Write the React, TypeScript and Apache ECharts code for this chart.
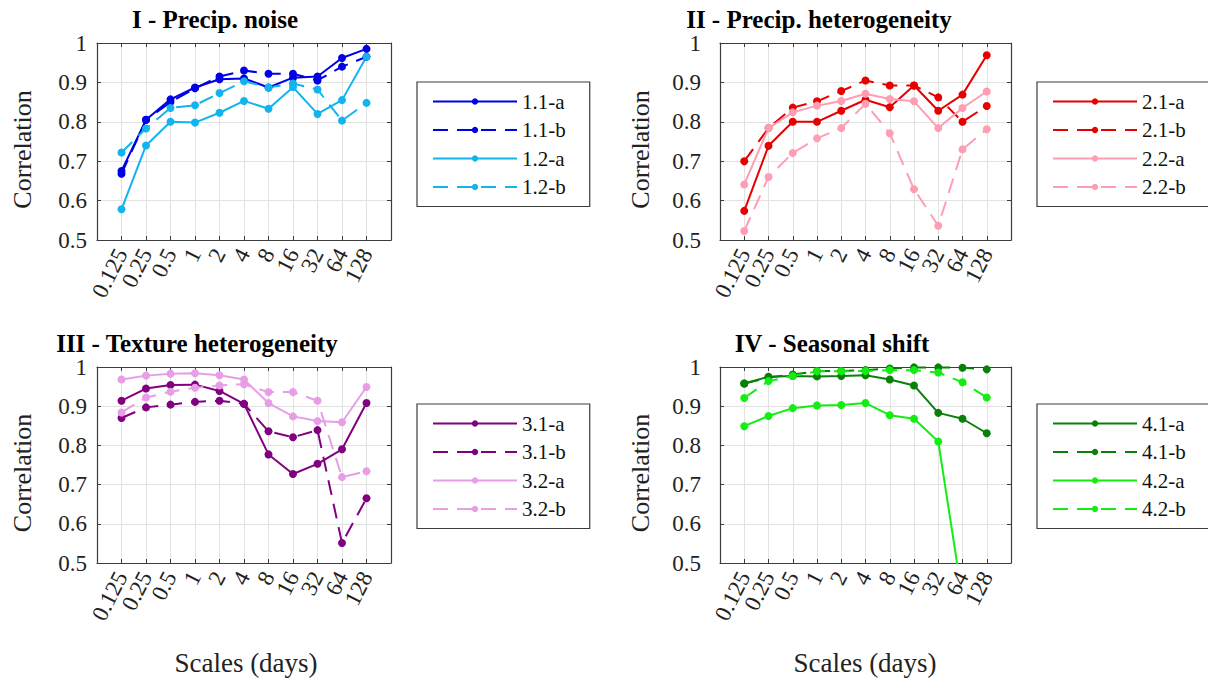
import React, { useEffect, useRef } from 'react';
import * as echarts from 'echarts';

const FONT = "'Liberation Serif', 'Times New Roman', serif";

const scales = ['0.125', '0.25', '0.5', '1', '2', '4', '8', '16', '32', '64', '128'];
const yTicks = [0.5, 0.6, 0.7, 0.8, 0.9, 1];

const titles = ['I - Precip. noise', 'II - Precip. heterogeneity', 'III - Texture heterogeneity', 'IV - Seasonal shift'];

const names1 = ['1.1-a', '1.1-b', '1.2-a', '1.2-b'];
const names2 = ['2.1-a', '2.1-b', '2.2-a', '2.2-b'];
const names3 = ['3.1-a', '3.1-b', '3.2-a', '3.2-b'];
const names4 = ['4.1-a', '4.1-b', '4.2-a', '4.2-b'];

const s11a = [0.675, 0.805, 0.857, 0.887, 0.908, 0.910, 0.887, 0.912, 0.915, 0.962, 0.985];
const s11b = [0.668, 0.805, 0.850, 0.885, 0.915, 0.930, 0.922, 0.922, 0.905, 0.940, 0.965];
const s12a = [0.578, 0.740, 0.800, 0.798, 0.823, 0.853, 0.833, 0.888, 0.820, 0.855, 0.965];
const s12b = [0.722, 0.783, 0.835, 0.842, 0.873, 0.903, 0.887, 0.897, 0.882, 0.803, 0.848];

const s21a = [0.574, 0.739, 0.800, 0.800, 0.828, 0.856, 0.837, 0.892, 0.828, 0.869, 0.969];
const s21b = [0.700, 0.784, 0.836, 0.852, 0.878, 0.905, 0.892, 0.892, 0.862, 0.800, 0.840];
const s22a = [0.641, 0.784, 0.824, 0.841, 0.853, 0.871, 0.858, 0.852, 0.784, 0.835, 0.877];
const s22b = [0.523, 0.660, 0.721, 0.758, 0.784, 0.846, 0.771, 0.629, 0.536, 0.730, 0.781];

const s31a = [0.914, 0.945, 0.954, 0.955, 0.939, 0.906, 0.777, 0.727, 0.753, 0.790, 0.908];
const s31b = [0.870, 0.897, 0.904, 0.911, 0.914, 0.906, 0.836, 0.821, 0.839, 0.551, 0.665];
const s32a = [0.968, 0.978, 0.983, 0.984, 0.979, 0.968, 0.908, 0.874, 0.862, 0.859, 0.949];
const s32b = [0.884, 0.922, 0.937, 0.947, 0.953, 0.956, 0.936, 0.936, 0.914, 0.719, 0.734];

const s41a = [0.958, 0.975, 0.977, 0.976, 0.977, 0.979, 0.968, 0.953, 0.883, 0.868, 0.831];
const s41b = [0.958, 0.973, 0.981, 0.989, 0.990, 0.992, 0.996, 0.999, 0.999, 0.998, 0.994];
const s42a = [0.849, 0.875, 0.895, 0.902, 0.903, 0.908, 0.877, 0.868, 0.810, 0.410, 0.400];
const s42b = [0.921, 0.964, 0.977, 0.989, 0.989, 0.990, 0.992, 0.992, 0.986, 0.961, 0.922];

const colors1 = ['#0000e6', '#0000e6', '#12b4ee', '#12b4ee'];
const colors2 = ['#e60000', '#e60000', '#ff9db2', '#ff9db2'];
const colors3 = ['#800080', '#800080', '#e89ee6', '#e89ee6'];
const colors4 = ['#0a800a', '#0a800a', '#12ee12', '#12ee12'];

const panels = [
  { names: names1, values: [s11a, s11b, s12a, s12b], colors: colors1 },
  { names: names2, values: [s21a, s21b, s22a, s22b], colors: colors2 },
  { names: names3, values: [s31a, s31b, s32a, s32b], colors: colors3 },
  { names: names4, values: [s41a, s41b, s42a, s42b], colors: colors4 },
];

const grids = [
  { left: 97, top: 43, width: 294, height: 197 },
  { left: 720, top: 43, width: 291, height: 197 },
  { left: 97, top: 367, width: 294, height: 196 },
  { left: 720, top: 367, width: 291, height: 196 },
];
const yLabelMargin = [10, 19, 10, 19];
const legendPos = [
  { left: 417, top: 82 },
  { left: 1037, top: 82 },
  { left: 417, top: 404 },
  { left: 1037, top: 404 },
];
const titlePos = [
  { x: 215, y: 19 },
  { x: 819, y: 19 },
  { x: 197, y: 343 },
  { x: 832, y: 343 },
];

const AXIS_COLOR = '#3c3c3c';
const GRID_COLOR = '#e2e2e2';
const DASH = [15, 9];

function buildOption() {
  const xAxis: any[] = [];
  const yAxis: any[] = [];
  const series: any[] = [];
  const legend: any[] = [];
  const graphic: any[] = [];

  panels.forEach((p, gi) => {
    const g = grids[gi];
    xAxis.push({
      type: 'value', gridIndex: gi, position: 'bottom', min: 0, max: 12, interval: 1,
      axisLine: { show: true, onZero: false, lineStyle: { color: AXIS_COLOR, width: 1.2 } },
      axisTick: { show: true, inside: true, length: 4, lineStyle: { color: AXIS_COLOR } },
      splitLine: { show: true, lineStyle: { color: GRID_COLOR, width: 1 } },
      axisLabel: {
        show: true, rotate: 63, margin: 10, fontFamily: FONT, fontSize: 23, color: '#222',
        formatter: (v: number) => (v >= 1 && v <= scales.length ? scales[v - 1] : ''),
      },
    });
    xAxis.push({
      type: 'value', gridIndex: gi, position: 'top', min: 0, max: 12, interval: 1,
      axisLine: { show: true, onZero: false, lineStyle: { color: AXIS_COLOR, width: 1.2 } },
      axisTick: { show: true, inside: true, length: 4, lineStyle: { color: AXIS_COLOR } },
      splitLine: { show: false }, axisLabel: { show: false },
    });
    yAxis.push({
      type: 'value', gridIndex: gi, position: 'left', min: 0.5, max: 1, interval: 0.1,
      axisLine: { show: true, onZero: false, lineStyle: { color: AXIS_COLOR, width: 1.2 } },
      axisTick: { show: true, inside: true, length: 4, lineStyle: { color: AXIS_COLOR } },
      splitLine: { show: true, lineStyle: { color: GRID_COLOR, width: 1 } },
      axisLabel: {
        show: true, margin: yLabelMargin[gi], fontFamily: FONT, fontSize: 23, color: '#222',
        formatter: (v: number) => {
          const t = yTicks.find((k) => Math.abs(k - v) < 1e-6);
          return t === undefined ? '' : String(t);
        },
      },
    });
    yAxis.push({
      type: 'value', gridIndex: gi, position: 'right', min: 0.5, max: 1, interval: 0.1,
      axisLine: { show: true, onZero: false, lineStyle: { color: AXIS_COLOR, width: 1.2 } },
      axisTick: { show: true, inside: true, length: 4, lineStyle: { color: AXIS_COLOR } },
      splitLine: { show: false }, axisLabel: { show: false },
    });

    p.names.forEach((name, si) => {
      series.push({
        type: 'line', name, xAxisIndex: gi * 2, yAxisIndex: gi * 2,
        data: p.values[si].map((v, i) => [i + 1, v]),
        symbol: 'circle', symbolSize: 8, showSymbol: true, clip: true,
        color: p.colors[si],
        itemStyle: { color: p.colors[si] },
        lineStyle: { color: p.colors[si], width: 2, type: si % 2 === 1 ? DASH : 'solid' },
        emphasis: { disabled: true },
      });
    });

    legend.push({
      data: p.names, orient: 'vertical', left: legendPos[gi].left, top: legendPos[gi].top,
      backgroundColor: '#fff', borderColor: '#3c3c3c', borderWidth: 1.2, borderRadius: 0,
      padding: [9, 24, 9, 15], itemGap: 7.5, itemWidth: 84, itemHeight: 8,
      selectedMode: false,
      textStyle: { fontFamily: FONT, fontSize: 21, color: '#111', lineHeight: 20 },
    });

    graphic.push({
      type: 'text', x: titlePos[gi].x, y: titlePos[gi].y,
      style: { text: titles[gi], font: `bold 25px ${FONT}`, fill: '#000', align: 'center', verticalAlign: 'middle' },
    });
    graphic.push({
      type: 'text', x: gi % 2 === 0 ? 22 : 640, y: g.top + g.height / 2 + 8, rotation: Math.PI / 2,
      style: { text: 'Correlation', font: `26px ${FONT}`, fill: '#222', align: 'center', verticalAlign: 'middle' },
    });
  });

  graphic.push({
    type: 'text', x: 246, y: 663,
    style: { text: 'Scales (days)', font: `27px ${FONT}`, fill: '#222', align: 'center', verticalAlign: 'middle' },
  });
  graphic.push({
    type: 'text', x: 865, y: 663,
    style: { text: 'Scales (days)', font: `27px ${FONT}`, fill: '#222', align: 'center', verticalAlign: 'middle' },
  });

  return {
    animation: false,
    backgroundColor: '#fff',
    grid: grids.map((g) => ({ ...g, containLabel: false })),
    xAxis, yAxis, series, legend, graphic,
  };
}

export default function App() {
  const ref = useRef<HTMLDivElement>(null);
  useEffect(() => {
    const chart = echarts.init(ref.current!, null, { renderer: 'svg' });
    chart.setOption(buildOption());
    return () => chart.dispose();
  }, []);
  return (
    <div
      ref={ref}
      style={{ position: 'absolute', left: 0, top: 0, width: 1208, height: 684, background: '#fff' }}
    />
  );
}
